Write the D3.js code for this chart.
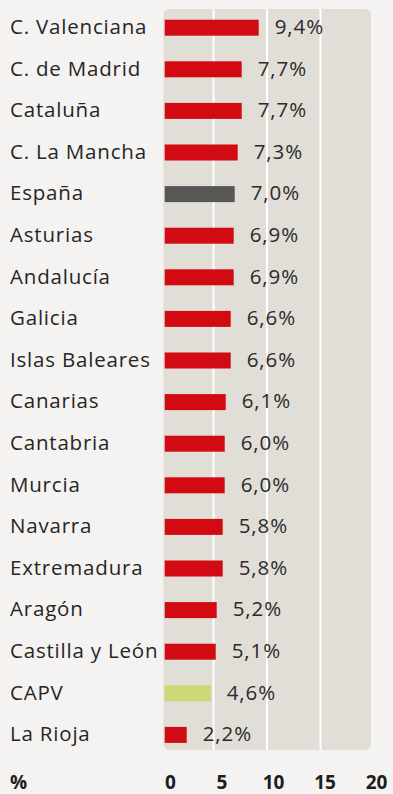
<!DOCTYPE html>
<html>
<head>
<meta charset="utf-8">
<script src="https://cdn.jsdelivr.net/npm/d3@7"></script>
<style>
  html, body { margin: 0; padding: 0; background: #f4f3f1; }
  svg { display: block; }
  text { font-family: "Open Sans", sans-serif; }
</style>
</head>
<body>
<svg id="chart" width="393" height="794"></svg>
<script>
// Regions and their share (%)
const regions = ["C. Valenciana", "C. de Madrid", "Cataluña", "C. La Mancha", "España",
  "Asturias", "Andalucía", "Galicia", "Islas Baleares", "Canarias", "Cantabria",
  "Murcia", "Navarra", "Extremadura", "Aragón", "Castilla y León", "CAPV", "La Rioja"];
const values = [9.4, 7.7, 7.7, 7.3, 7.0, 6.9, 6.9, 6.6, 6.6, 6.1, 6.0, 6.0, 5.8, 5.8, 5.2, 5.1, 4.6, 2.2];
const tickValues = [0, 5, 10, 15, 20];
const gridValues = [5, 10, 15];
const axisUnit = "%";

const colorFor = name => name === "España" ? "#575756" : name === "CAPV" ? "#cbd976" : "#d20a11";
const fmt = v => v.toFixed(1).replace(".", ",") + "%";

const svg = d3.select("#chart");

const x = d3.scaleLinear().domain([0, 10]).range([164.7, 264.7]);
const xGrid = d3.scaleLinear().domain([0, 20]).range([160, 374]);
const xTick = d3.scaleLinear().domain([0, 20]).range([170.5, 376.5]);
const y = d3.scaleBand().domain(regions).range([6.9, 6.9 + 18 * 41.6]).padding(0);
const barH = 16;

// panel background
svg.append("rect")
  .attr("x", 163.5).attr("y", 9)
  .attr("width", 371 - 163.5).attr("height", 750 - 9)
  .attr("rx", 6).attr("fill", "#e1ddd7");

// vertical gridlines
svg.append("g").selectAll("line").data(gridValues).join("line")
  .attr("x1", d => xGrid(d)).attr("x2", d => xGrid(d))
  .attr("y1", 9).attr("y2", 750)
  .attr("stroke", "#ffffff").attr("stroke-width", 2);

const rows = svg.append("g").selectAll("g").data(regions).join("g")
  .attr("transform", d => `translate(0,${y(d) + y.bandwidth() / 2})`);

rows.append("text")
  .attr("x", 10).attr("y", 6.2)
  .attr("font-size", 20.5).attr("letter-spacing", 0.8)
  .attr("fill", "#262625")
  .text(d => d);

rows.append("rect")
  .attr("x", x(0)).attr("y", -barH / 2)
  .attr("width", (d, i) => x(values[i]) - x(0)).attr("height", barH)
  .attr("fill", d => colorFor(d));

rows.append("text")
  .attr("x", (d, i) => x(values[i]) + 16).attr("y", 6.2)
  .attr("font-size", 20.5).attr("letter-spacing", 0.9)
  .attr("fill", "#2b2b2a")
  .text((d, i) => fmt(values[i]));

// bottom axis labels
const axisY = 789;
svg.append("g").selectAll("text").data(tickValues).join("text")
  .attr("x", d => xTick(d)).attr("y", axisY)
  .attr("text-anchor", "middle")
  .attr("font-family", "DejaVu Sans, sans-serif")
  .attr("font-size", 19).attr("font-weight", 700).attr("fill", "#1d1d1b")
  .text(d => d);

svg.append("text")
  .attr("x", 10).attr("y", axisY)
  .attr("font-family", "DejaVu Sans, sans-serif")
  .attr("font-size", 19).attr("font-weight", 700).attr("fill", "#1d1d1b")
  .text(axisUnit);
</script>
</body>
</html>
